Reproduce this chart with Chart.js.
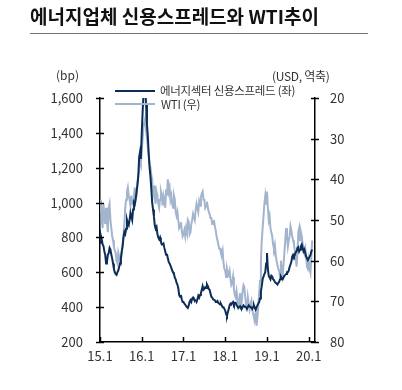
<!DOCTYPE html>
<html><head><meta charset="utf-8">
<script src="https://cdn.jsdelivr.net/npm/chart.js@4/dist/chart.umd.min.js"></script>
<style>
html,body{margin:0;padding:0;background:#fff;width:402px;height:390px;overflow:hidden;}
#wrap{position:relative;width:402px;height:390px;}
.t{position:absolute;white-space:nowrap;font-family:'Noto Sans CJK KR','Noto Sans',sans-serif;color:#222;}
</style></head><body>
<div id="wrap">
<canvas id="c" width="402" height="390" style="position:absolute;left:0;top:0"></canvas>
<div class="t" style="left:30px;top:2px;font-size:19px;font-weight:bold;color:#111;">에너지업체 신용스프레드와 WTI추이</div>
<div style="position:absolute;left:30px;top:33px;width:338px;height:1px;background:#777"></div>
<div class="t" style="left:56px;top:66px;font-size:12px;color:#333">(bp)</div>
<div class="t" style="left:272px;top:67px;font-size:12px;color:#333;letter-spacing:-0.3px">(USD, 역축)</div>
<div style="position:absolute;left:115px;top:90px;width:40px;height:2px;background:#0c2d57"></div>
<div class="t" style="left:160px;top:82px;font-size:11.5px;color:#333;letter-spacing:-0.3px">에너지섹터 신용스프레드 (좌)</div>
<div style="position:absolute;left:115px;top:103px;width:40px;height:2px;background:#a3b4cd"></div>
<div class="t" style="left:161px;top:96px;font-size:11.5px;color:#333;letter-spacing:-0.3px">WTI (우)</div>
</div>
<script>
// weekly observations (4 per month) starting 2015-01
const startYear = 2015;
const periodsPerYear = 48;
const spreadBp = [
770,810,790,760,750,720,700,650,660,700,710,740,730,700,680,650,620,600,590,585,600,610,630,650,
680,720,750,800,830,820,850,900,880,870,900,940,920,900,960,1000,990,1020,1060,1100,1150,1260,1290,1250,
1400,1520,1620,1640,1650,1560,1450,1380,1280,1200,1150,1080,1000,960,920,870,850,860,820,800,790,800,775,760,
760,765,740,720,700,705,680,660,650,640,625,610,600,590,570,560,540,530,510,470,460,470,445,430,
430,420,415,405,400,395,410,430,440,430,450,455,445,440,440,430,445,465,455,470,480,500,520,500,
505,515,510,530,520,505,500,480,460,455,445,445,440,430,430,435,425,420,415,420,410,400,400,390,
380,360,350,370,390,410,420,415,425,430,415,425,425,410,405,395,400,405,395,390,400,410,405,400,
400,395,400,410,405,400,400,390,400,410,395,385,400,410,420,430,450,490,520,560,575,590,600,650,
710,620,580,570,560,580,575,560,555,545,540,535,530,540,545,560,575,565,560,570,580,585,590,600,
600,610,630,645,660,690,700,690,700,715,720,740,745,720,730,750,760,740,720,730,710,690,690,670,
680,690,700,720,730];
const wtiUsd = [
48,45,50,52,46,49,51,47,50,53,47,46,50,52,54,55,56.6,57.5,58,60,60.6,58,59,61,
60,58,56,54,51,47,45,43,42,44,45,46.5,44,46,46,44,42,45,44,41,39,38,35,36,
33,30,27,26,25,28,30,32,34,36,37,39,40,43,44,41.5,46,43,44,46,47,45,43,44,
46.5,44,45,47,42.5,44,40,43,42,45,44,46,47,44,45,48,49,48,50,52,51.5,50.5,52.5,54,
53.5,52.5,54,52,53,50,50.5,53.5,53,51,50,48.5,48.5,50,47.5,46,47,48,45.5,46.5,44.5,43.5,43,45,
45,47,46.5,45.5,47,48,48.5,49.5,49.5,51,51,50,51.5,52.5,54,55,56,57,57,58,58.5,57.5,60.5,62,
62.5,64,62,63,63.5,62.5,64.5,66,65.5,64,67,68.5,69,67.5,69.5,71,70,68,72,70,67.5,66,66.5,69,
71,72.5,69,70.5,72,71,70,72,73,74,74.5,73,76,74,71,68,65,60,55,52,49,46,44,46,
43,47,50,49,52,53,54,56,57,56,58.5,60,61,62,62.5,64,60,62,63.5,61,58,55,52,54,
56.5,55,54,51.5,52.5,54,55,56,57.5,59,61.5,58,53,52,55,53,54,56,56.5,58,57,59,61.5,62,
60,62,63,59,55];
const spreadTicks = [200,400,600,800,1000,1200,1400,1600];
const wtiTicks = [20,30,40,50,60,70,80];
const yearTicks = ['15.1','16.1','17.1','18.1','19.1','20.1'];

const toPts = arr => arr.map((v,i)=>({x:startYear + i/periodsPerYear, y:v}));

const tickMarks = {
  id:'tickMarks',
  afterDraw(chart){
    const ctx = chart.ctx;
    ctx.save();
    ctx.strokeStyle = '#000';
    ctx.lineWidth = 1.5;
    const y = chart.scales.y, y1 = chart.scales.y1, x = chart.scales.x;
    const L = chart.chartArea.left, R = chart.chartArea.right, B = chart.chartArea.bottom;
    y.ticks.forEach((t,i)=>{const p=Math.round(y.getPixelForTick(i))+0.5; ctx.beginPath(); ctx.moveTo(L-4,p); ctx.lineTo(L+4,p); ctx.stroke();});
    y1.ticks.forEach((t,i)=>{const p=Math.round(y1.getPixelForTick(i))+0.5; ctx.beginPath(); ctx.moveTo(R-4,p); ctx.lineTo(R+4,p); ctx.stroke();});
    x.ticks.forEach((t,i)=>{const p=Math.round(x.getPixelForTick(i))+0.5; ctx.beginPath(); ctx.moveTo(p,B); ctx.lineTo(p,B-5); ctx.stroke();});
    ctx.restore();
  }
};

new Chart(document.getElementById('c'), {
  type:'line',
  data:{datasets:[
    {label:'에너지섹터 신용스프레드 (좌)', data:toPts(spreadBp), yAxisID:'y', borderColor:'#0c2d57', borderWidth:2, pointRadius:0, tension:0},
    {label:'WTI (우)', data:toPts(wtiUsd), yAxisID:'y1', borderColor:'#a3b4cd', borderWidth:2, pointRadius:0, tension:0}
  ]},
  options:{
    responsive:false, animation:false, devicePixelRatio:1,
    layout:{padding:{top:98,left:0,right:0,bottom:0}},
    plugins:{legend:{display:false}, tooltip:{enabled:false}},
    scales:{
      x:{type:'linear', min:2015, max:2020.15,
        afterBuildTicks(s){ s.ticks = yearTicks.map((l,i)=>({value:startYear+i})); },
        ticks:{callback:(v,i)=>yearTicks[i], color:'#333', font:{family:"'Noto Sans CJK KR', sans-serif", size:13}, padding:6, maxRotation:0, autoSkip:false},
        grid:{display:false, drawTicks:false},
        border:{display:true, color:'#000', width:1.5},
        afterFit(s){ s.height = 48; }
      },
      y:{position:'left', min:200, max:1600,
        afterBuildTicks(s){ s.ticks = spreadTicks.map(v=>({value:v})); },
        ticks:{callback:v=>v.toLocaleString('en-US'), color:'#333', font:{family:"'Noto Sans CJK KR', sans-serif", size:13}, padding:17},
        grid:{display:false, drawTicks:false},
        border:{display:true, color:'#000', width:1.5},
        afterFit(s){ s.width = 100; }
      },
      y1:{position:'right', min:20, max:80, reverse:true,
        afterBuildTicks(s){ s.ticks = wtiTicks.map(v=>({value:v})); },
        ticks:{color:'#333', font:{family:"'Noto Sans CJK KR', sans-serif", size:13}, padding:15},
        grid:{display:false, drawTicks:false},
        border:{display:true, color:'#000', width:1.5},
        afterFit(s){ s.width = 87; }
      }
    }
  },
  plugins:[tickMarks]
});
</script>
</body></html>
